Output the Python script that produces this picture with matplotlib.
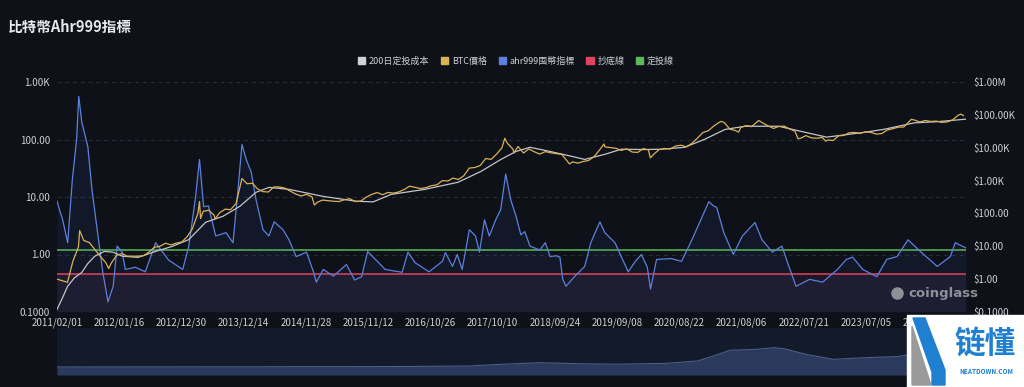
import matplotlib
matplotlib.use("Agg")
import matplotlib.pyplot as plt
import matplotlib.ticker as mticker
from matplotlib.patches import Patch, Polygon, Rectangle
import numpy as np
import pandas as pd

plt.rcParams['font.family'] = ['Noto Sans CJK TC', 'DejaVu Sans']

# ---- data ----
# BTC price, monthly (first of month) 2011-02 .. 2025-01
price_monthly = [
    1.0, 0.9, 0.8, 3.5, 9.5, 15, 13, 8, 5, 3.2, 3,
    5.3, 6, 5, 5, 5, 5.2, 6.7, 9.4, 10, 12.4, 11, 12.5,
    13.5, 20, 34, 100, 116, 125, 88, 105, 135, 130, 200, 1000,
    800, 830, 560, 460, 450, 640, 640, 590, 480, 390, 340, 380,
    320, 220, 255, 245, 235, 230, 260, 280, 230, 237, 312, 378,
    432, 370, 435, 416, 450, 535, 675, 620, 573, 610, 700, 740,
    1000, 970, 1190, 1080, 1400, 2400, 2500, 2860, 4700, 4400, 6400, 10000,
    13500, 9000, 10900, 6900, 9200, 7500, 6400, 7600, 7000, 6600, 6300, 4000,
    3700, 3400, 3800, 4100, 5300, 8500, 10600, 10100, 9600, 8300, 9200, 7400,
    7200, 9400, 8600, 6400, 8800, 9500, 9100, 11300, 11900, 10600, 13800, 19600,
    29000, 33100, 45000, 58700, 57700, 36700, 33500, 41500, 47100, 43800, 61300, 57000,
    46300, 38500, 44400, 45500, 37700, 31800, 19300, 23300, 20000, 19400, 20500, 17200,
    16600, 23100, 23600, 28500, 29200, 27200, 30500, 29200, 25900, 27000, 34700, 37700,
    42300, 42600, 61200, 69700, 60600, 67500, 62900, 64600, 59000, 60800, 70200, 96400,
    94400,
]
price_extra_dates = ['2011-06-08', '2011-11-18', '2013-04-10', '2013-04-16', '2013-07-06',
                     '2013-12-04', '2015-01-14', '2017-12-17', '2018-02-06', '2018-12-15',
                     '2019-06-26', '2020-03-12', '2021-04-14', '2021-07-20', '2021-11-10',
                     '2022-06-18', '2022-11-21', '2024-03-14', '2024-12-17']
price_extra_vals = [30, 2.1, 230, 70, 68, 1150, 180, 19400, 6900, 3200,
                    13000, 4900, 63500, 29800, 67500, 18900, 15800, 73100, 106000]

# 200-day DCA cost
cost_dates = ['2011-02-01', '2011-03-01', '2011-04-01', '2011-05-10', '2011-06-20', '2011-07-24',
              '2011-09-01', '2011-10-25', '2011-12-13', '2012-02-02', '2012-05-01', '2012-08-07',
              '2012-11-10', '2013-02-09', '2013-05-15', '2013-08-20', '2013-11-23', '2014-02-21',
              '2014-05-05', '2014-08-25', '2015-03-05', '2015-09-05', '2015-12-10', '2016-03-20',
              '2016-09-25', '2017-03-30', '2017-08-05', '2017-11-25', '2018-02-18', '2018-05-07',
              '2018-08-28', '2019-01-20', '2019-03-10', '2019-07-01', '2019-10-01', '2020-02-05',
              '2020-05-15', '2020-09-20', '2021-01-10', '2021-05-05', '2021-08-25', '2022-03-01',
              '2022-07-10', '2022-11-25', '2023-03-16', '2023-06-16', '2023-10-10', '2024-03-30',
              '2024-08-07', '2025-01-15']
cost_vals = [0.12, 0.25, 0.6, 1.1, 1.6, 3, 5, 7, 6.6, 5, 4.6, 7,
             10, 16, 54, 82, 166, 440, 620, 540, 330, 235, 225, 380,
             540, 890, 1900, 4400, 7700, 10300, 7700, 5100, 4400, 6300, 9000, 8800,
             9000, 10300, 18000, 36000, 45000, 45000, 31000, 21000, 25000, 29000, 36000, 57000,
             62000, 74000]

# ahr999 index
ahr_dates = ['2011-02-01', '2011-02-15', '2011-03-05', '2011-04-02', '2011-04-28', '2011-05-22',
             '2011-06-03', '2011-06-20', '2011-07-24', '2011-08-16', '2011-09-19', '2011-10-16',
             '2011-11-14', '2011-12-13', '2012-01-04', '2012-02-02', '2012-02-19', '2012-04-15',
             '2012-06-10', '2012-08-07', '2012-09-15', '2012-10-19', '2013-01-06', '2013-02-09',
             '2013-03-19', '2013-04-10', '2013-05-03', '2013-05-30', '2013-07-10', '2013-09-06',
             '2013-10-15', '2013-11-12', '2013-12-04', '2013-12-28', '2014-01-25', '2014-02-21',
             '2014-04-01', '2014-05-04', '2014-06-03', '2014-07-22', '2014-08-25', '2014-10-04',
             '2014-12-01', '2015-01-10', '2015-01-25', '2015-03-05', '2015-05-01', '2015-07-13',
             '2015-08-28', '2015-10-06', '2015-11-09', '2015-12-10', '2016-02-15', '2016-05-20',
             '2016-06-22', '2016-08-01', '2016-10-18', '2017-01-01', '2017-01-18', '2017-02-27',
             '2017-03-25', '2017-04-22', '2017-06-01', '2017-07-06', '2017-07-28', '2017-08-25',
             '2017-09-21', '2017-10-27', '2017-11-24', '2017-12-22', '2018-01-19', '2018-02-18',
             '2018-03-17', '2018-04-08', '2018-05-07', '2018-07-01', '2018-08-01', '2018-08-28',
             '2018-10-01', '2018-10-22', '2018-11-07', '2018-11-25', '2019-01-14', '2019-03-10',
             '2019-04-13', '2019-06-03', '2019-07-01', '2019-08-27', '2019-10-01', '2019-11-09',
             '2019-12-19', '2020-01-22', '2020-02-24', '2020-03-13', '2020-04-16', '2020-07-07',
             '2020-09-03', '2020-10-31', '2020-12-20', '2021-02-03', '2021-03-01', '2021-03-19',
             '2021-04-28', '2021-06-20', '2021-08-10', '2021-10-20', '2021-11-28', '2022-01-25',
             '2022-03-20', '2022-04-28', '2022-06-07', '2022-08-22', '2022-11-03', '2023-01-25',
             '2023-03-16', '2023-04-20', '2023-06-16', '2023-09-03', '2023-10-28', '2023-12-25',
             '2024-02-25', '2024-05-04', '2024-08-07', '2024-10-19', '2024-11-16', '2025-01-15']
ahr_vals = [8.5, 6, 4, 1.6, 20, 100,
            560, 200, 75, 13.5, 2.1, 0.49,
            0.15, 0.28, 1.4, 1.1, 0.55, 0.6,
            0.5, 1.6, 1.1, 0.8, 0.55, 1.4,
            10, 45, 6.8, 7, 2.1, 2.4,
            1.6, 13.5, 82, 45, 27, 9,
            2.7, 2.1, 3.7, 2.7, 1.8, 0.92,
            1.1, 0.49, 0.33, 0.55, 0.42, 0.67,
            0.36, 0.41, 1.13, 0.9, 0.55, 0.49,
            1.1, 0.72, 0.5, 0.76, 1.08, 0.62,
            1.0, 0.55, 2.7, 2.1, 1.1, 4,
            2.1, 4, 6, 25, 9, 4.6,
            2.2, 2.5, 1.4, 1.2, 1.6, 0.92,
            0.95, 0.9, 0.37, 0.28, 0.42, 0.62,
            1.6, 3.7, 2.4, 1.6, 0.92, 0.5,
            0.76, 1.0, 0.6, 0.25, 0.82, 0.85,
            0.76, 1.8, 4, 8.3, 7, 6.6,
            2.4, 1.0, 2.1, 3.6, 1.8, 1.1,
            1.4, 0.62, 0.28, 0.37, 0.33, 0.55,
            0.82, 0.9, 0.55, 0.41, 0.82, 0.92,
            1.8, 1.13, 0.62, 0.92, 1.6, 1.3]

bottom_line = 0.45   # 抄底線
dca_line = 1.2       # 定投線

# overview strip of the zoom slider
overview_dates = ['2011-02-01', '2013-12-01', '2016-06-01', '2017-06-01', '2018-01-01', '2018-07-01',
                  '2019-03-01', '2019-09-01', '2020-06-01', '2020-12-01', '2021-03-01', '2021-06-01',
                  '2021-11-01', '2022-02-01', '2022-04-01', '2022-08-01', '2023-01-01', '2023-07-01',
                  '2024-01-01', '2024-05-01', '2025-01-15']
overview_vals = [8, 8.2, 8.5, 9, 11, 12.3, 11.2, 10.8, 11.6, 14, 19, 24.7,
                 25.7, 27.3, 26.3, 20.7, 15.7, 17.3, 18.5, 22.3, 24]

tick_dates = ['2011-02-01', '2012-01-16', '2012-12-30', '2013-12-14', '2014-11-28', '2015-11-12',
              '2016-10-26', '2017-10-10', '2018-09-24', '2019-09-08', '2020-08-22', '2021-08-06',
              '2022-07-21', '2023-07-05', '2024-06-18']

# ---- build series ----
price = pd.concat([
    pd.Series(price_monthly, index=pd.date_range('2011-02-01', periods=len(price_monthly), freq='MS')),
    pd.Series(price_extra_vals, index=pd.to_datetime(price_extra_dates)),
]).sort_index()
cost = pd.Series(cost_vals, index=pd.to_datetime(cost_dates))
ahr = pd.Series(ahr_vals, index=pd.to_datetime(ahr_dates))
overview = pd.Series(overview_vals, index=pd.to_datetime(overview_dates))

BG = '#0e1118'
TXT = '#cdd0d6'
C_COST = '#c4c4c8'
C_PRICE = '#d9b257'
C_AHR = '#5b80dd'
C_RED = '#e0435e'
C_GREEN = '#5db85a'

W, H = 1024, 387
fig = plt.figure(figsize=(W / 100, H / 100), dpi=100, facecolor=BG)

def box(x0, y0, x1, y1):
    return [x0 / W, 1 - y1 / H, (x1 - x0) / W, (y1 - y0) / H]

xmin, xmax = pd.Timestamp('2011-02-01'), pd.Timestamp('2025-01-15')

ax = fig.add_axes(box(57, 82, 966, 312))
ax.set_facecolor(BG)
ax.set_yscale('log')
ax.set_ylim(0.1, 1000)
ax.set_xlim(xmin, xmax)

ax.axhspan(0.1, bottom_line, color='#1c1724', zorder=0, lw=0)
for v in [1, 10, 100, 1000]:
    ax.axhline(v, color='#2a2e38', lw=0.7, ls=(0, (4, 4)), zorder=1)
ax.fill_between(ahr.index, ahr.values, 0.1, color='#3b63c4', alpha=0.09, lw=0, zorder=2)
ax.plot(ahr.index, ahr.values, color=C_AHR, lw=0.9, zorder=4)
ax.axhline(bottom_line, color=C_RED, lw=1.1, zorder=3)
ax.axhline(dca_line, color=C_GREEN, lw=1.1, zorder=3)

ax.set_yticks([0.1, 1, 10, 100, 1000])
ax.set_yticklabels(['0.1000', '1.00', '10.00', '100.00', '1.00K'])
ax.yaxis.set_minor_locator(mticker.NullLocator())
ax.set_xticks(pd.to_datetime(tick_dates))
ax.set_xticklabels([d.replace('-', '/') for d in tick_dates])
ax.tick_params(axis='both', length=0, labelsize=7, colors=TXT)
ax.tick_params(axis='y', pad=5)
ax.tick_params(axis='x', pad=4)
for s in ax.spines.values():
    s.set_visible(False)

ax2 = ax.twinx()
ax2.set_yscale('log')
ax2.set_ylim(0.1, 1e6)
ax2.plot(cost.index, cost.values, color=C_COST, lw=0.9, zorder=3)
ax2.plot(price.index, price.values, color=C_PRICE, lw=0.9, zorder=4)
ax2.set_yticks([0.1, 1, 10, 100, 1e3, 1e4, 1e5, 1e6])
ax2.set_yticklabels(['$0.1000', '$1.00', '$10.00', '$100.00', '$1.00K', '$10.00K', '$100.00K', '$1.00M'])
ax2.yaxis.set_minor_locator(mticker.NullLocator())
ax2.tick_params(axis='y', length=0, labelsize=7, colors=TXT, pad=5)
for s in ax2.spines.values():
    s.set_visible(False)

# zoom slider strip
axs = fig.add_axes(box(57, 328, 966, 375))
axs.set_facecolor('#131a2a')
axs.set_xlim(xmin, xmax)
axs.set_ylim(0, 47)
axs.fill_between(overview.index, overview.values, 0, color='#2b3a5c', lw=0)
axs.plot(overview.index, overview.values, color='#4b5e88', lw=0.8)
axs.set_xticks([]); axs.set_yticks([])
for s in axs.spines.values():
    s.set_visible(False)

# title and legend
fig.text(8 / W, 1 - 27 / H, '比特幣Ahr999指標', fontsize=10.5, fontweight='bold', color='#e6e8ec', va='center')
handles = [Patch(color=c, label=l) for c, l in [
    ('#d0d2d8', '200日定投成本'), (C_PRICE, 'BTC價格'), (C_AHR, 'ahr999囤幣指標'),
    (C_RED, '抄底線'), (C_GREEN, '定投線')]]
fig.legend(handles=handles, loc='center', bbox_to_anchor=(516 / W, 1 - 61 / H), ncol=5, frameon=False,
           fontsize=6.5, labelcolor=TXT, handlelength=0.8, handleheight=0.8, handletextpad=0.4,
           columnspacing=1.3)

# overlay: watermark + logo
ov = fig.add_axes([0, 0, 1, 1])
ov.set_xlim(0, W); ov.set_ylim(H, 0)
ov.axis('off')
ov.patch.set_alpha(0)
ov.plot([897], [293], marker='o', ms=8, color='#8d9097')
ov.text(908, 293, 'coinglass', fontsize=9.5, fontweight='bold', color='#8d9097', va='center', ha='left',
        family=['DejaVu Sans'])
ov.add_patch(Rectangle((907, 315), W - 907, H - 315, color='white', zorder=5))
ov.add_patch(Polygon([(912, 326), (931, 385), (912, 385)], closed=True, color='#9a9a9a', zorder=6))
ov.add_patch(Polygon([(913, 318), (925, 318), (945, 370), (945, 385), (932, 385), (932, 372)],
                     closed=True, color='#1f7fd0', zorder=7))
ov.text(985, 344, '链懂', fontsize=22, fontweight='bold', color='#1f7fd0', ha='center', va='center',
        family=['Noto Sans CJK SC'], zorder=8)
ov.text(986, 371, 'NEATDOWN.COM', fontsize=4.6, fontweight='bold', color='#1f7fd0', ha='center',
        va='center', zorder=8)

fig.savefig('out.png', dpi=100, facecolor=BG)
